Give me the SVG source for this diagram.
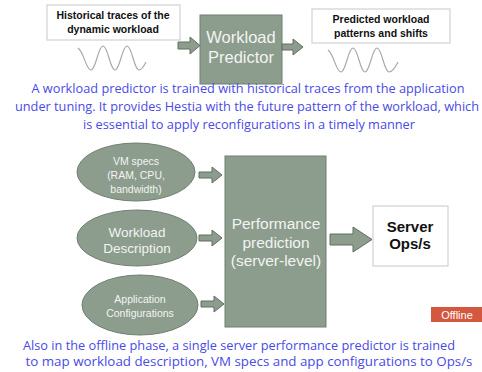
<svg xmlns="http://www.w3.org/2000/svg" width="482" height="372" viewBox="0 0 482 372">
<style>
.box{fill:#fff;stroke:#c8c8c8;stroke-width:1}
.g{fill:#8c9c8d;stroke:#6f7f70;stroke-width:1}
.arr{fill:#8c9c8d;stroke:#5f6f60;stroke-width:1}
.wave{fill:none;stroke:#a8a8a8;stroke-width:1.2}
.bk{font-family:"Liberation Sans",Arial,sans-serif;font-weight:bold;fill:#111;text-anchor:middle}
.wt{font-family:"Liberation Sans",Arial,sans-serif;fill:#f2f4f2;text-anchor:middle}
.bl{font-family:"Open Sans","Liberation Sans",sans-serif;fill:#4a4ae6;font-size:12.5px;text-anchor:middle}
</style>
<rect width="482" height="372" fill="#fff"/>
<g id="historical">
<rect class="box" x="47" y="5" width="133" height="35"/>
<text class="bk" font-size="10.5" x="113" y="19">Historical traces of the</text>
<text class="bk" font-size="10.5" x="113" y="33">dynamic workload</text>
<path class="wave" d="M78,48 C84,52 86,70 91,70 C96,70 98,46 103,46 C108,46 110,70 115,70 C120,70 122,46 127,46 C132,46 134,70 139,70 C142,70 144,66 146,62"/>
</g>
<g id="predictor">
<rect class="g" x="200" y="15" width="82" height="69"/>
<text class="wt" font-size="16.5" x="241" y="43">Workload</text>
<text class="wt" font-size="16.5" x="241" y="63">Predictor</text>
</g>
<g id="predicted">
<rect class="box" x="312" y="9" width="138" height="34"/>
<text class="bk" font-size="10.5" x="381" y="23">Predicted workload</text>
<text class="bk" font-size="10.5" x="381" y="37">patterns and shifts</text>
<path class="wave" d="M328,50 C334,54 336,72 341,72 C346,72 348,48 353,48 C358,48 360,72 365,72 C370,72 372,48 377,48 C382,48 384,72 389,72 C392,72 395,68 398,62"/>
</g>
<g id="desc1">
<text class="bl" x="248" y="93" textLength="433" lengthAdjust="spacingAndGlyphs">A workload predictor is trained with historical traces from the application</text>
<text class="bl" x="247" y="111" textLength="464" lengthAdjust="spacingAndGlyphs">under tuning. It provides Hestia with the future pattern of the workload, which</text>
<text class="bl" x="249" y="129" textLength="332" lengthAdjust="spacingAndGlyphs">is essential to apply reconfigurations in a timely manner</text>
</g>
<g id="vmspecs">
<ellipse class="g" cx="136" cy="172" rx="59" ry="29"/>
<text class="wt" font-size="10.5" x="136" y="165">VM specs</text>
<text class="wt" font-size="10.5" x="136" y="179">(RAM, CPU,</text>
<text class="wt" font-size="10.5" x="136" y="193">bandwidth)</text>
</g>
<g id="workloaddesc">
<ellipse class="g" cx="137" cy="238" rx="60" ry="28"/>
<text class="wt" font-size="13.5" x="137" y="237">Workload</text>
<text class="wt" font-size="13.5" x="137" y="253">Description</text>
</g>
<g id="appconf">
<ellipse class="g" cx="140" cy="305" rx="58" ry="30"/>
<text class="wt" font-size="10.5" x="140" y="303">Application</text>
<text class="wt" font-size="10.5" x="140" y="317">Configurations</text>
</g>
<g id="perf">
<rect class="g" x="225" y="156" width="101" height="171"/>
<text class="wt" font-size="15.5" x="276" y="229">Performance</text>
<text class="wt" font-size="15.5" x="276" y="248">prediction</text>
<text class="wt" font-size="15.5" x="276" y="266">(server-level)</text>
</g>
<g id="server">
<rect class="box" x="373" y="206" width="75" height="60"/>
<text class="bk" font-size="15" x="410" y="232">Server</text>
<text class="bk" font-size="15" x="410" y="249">Ops/s</text>
</g>
<g id="offline">
<rect x="431" y="307" width="51" height="15" fill="#d4573f"/>
<text x="457" y="319" font-family="'Liberation Sans',Arial,sans-serif" font-size="11" fill="#fff" text-anchor="middle">Offline</text>
</g>
<g id="connectors">
<path class="arr" d="M178,42 H190 V37 L200,45.5 L190,54 V49 H178 Z"/>
<path class="arr" d="M282,44 H293 V39 L303,47 L293,55 V50 H282 Z"/>
<path class="arr" d="M199,172 H212 V167 L222,175 L212,183 V178 H199 Z"/>
<path class="arr" d="M199,235 H212 V230 L222,238 L212,246 V241 H199 Z"/>
<path class="arr" d="M201,301 H214 V296 L224,304 L214,312 V307 H201 Z"/>
<path class="arr" d="M330,234 H353 V227 L372,239.5 L353,252 V245 H330 Z"/>
</g>
<g id="desc2">
<text class="bl" x="239" y="350" textLength="432" lengthAdjust="spacingAndGlyphs">Also in the offline phase, a single server performance predictor is trained</text>
<text class="bl" x="249" y="366" textLength="447" lengthAdjust="spacingAndGlyphs">to map workload description, VM specs and app configurations to Ops/s</text>
</g>
</svg>
